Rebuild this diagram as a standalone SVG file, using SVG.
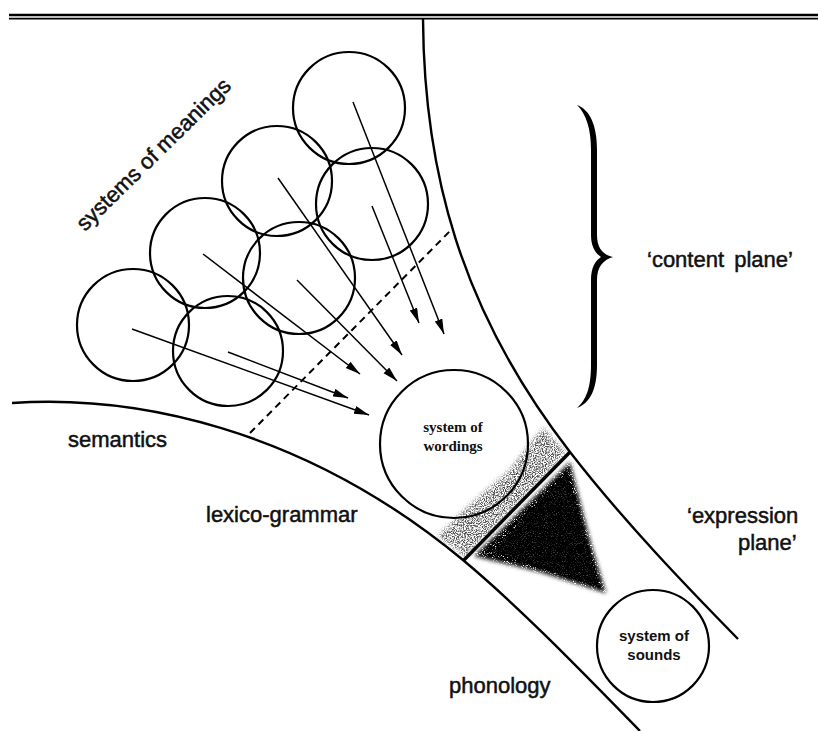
<svg xmlns="http://www.w3.org/2000/svg" width="818" height="731" viewBox="0 0 818 731">
<style>
.c{fill:none;stroke:#000;stroke-width:2.2}
.a{fill:none;stroke:#000;stroke-width:1.5;marker-end:url(#ah)}
.curve{fill:none;stroke:#000;stroke-width:2.4}
.lbl{font-family:"Liberation Sans",Arial,sans-serif;font-size:22px;fill:#111;stroke:#111;stroke-width:0.5}
.sm{font-family:"Liberation Sans",Arial,sans-serif;font-size:15px;font-weight:bold;fill:#111;text-anchor:middle}
.sr{font-family:"Liberation Serif","Times New Roman",serif;font-size:15px;font-weight:bold;fill:#111;text-anchor:middle}
</style>
<defs>
<marker id="ah" markerUnits="userSpaceOnUse" markerWidth="16" markerHeight="9" refX="15" refY="4" orient="auto">
<path d="M0,0 L15,4 L0,8 z" fill="#000"/>
</marker>
<filter id="grain" x="-20%" y="-20%" width="140%" height="140%">
<feGaussianBlur in="SourceGraphic" stdDeviation="2.5" result="b"/>
<feTurbulence type="fractalNoise" baseFrequency="0.9" numOctaves="2" seed="4" result="n"/>
<feColorMatrix in="n" type="matrix" values="0 0 0 0 0  0 0 0 0 0  0 0 0 0 0  4 0 0 0 -1.6" result="na"/>
<feComposite in="b" in2="na" operator="in"/>
</filter>
<filter id="grainD" x="-20%" y="-20%" width="140%" height="140%">
<feGaussianBlur in="SourceGraphic" stdDeviation="2" result="b"/>
<feTurbulence type="fractalNoise" baseFrequency="0.9" numOctaves="2" seed="7" result="n"/>
<feColorMatrix in="n" type="matrix" values="0 0 0 0 0  0 0 0 0 0  0 0 0 0 0  5 0 0 0 -1.2" result="na"/>
<feComposite in="b" in2="na" operator="in"/>
</filter>
</defs>
<rect width="818" height="731" fill="#fff"/>
<g id="rule">
<line x1="9" y1="15" x2="818" y2="15" stroke="#000" stroke-width="2.6"/>
<line x1="9" y1="18.6" x2="818" y2="18.6" stroke="#000" stroke-width="1.8"/>
</g>
<g id="strata">
<path class="curve" d="M423,19 C424,170 460,310 570,452 C625,523 690,590 738,639"/>
<path class="curve" d="M12,403 C130,395 300,425 463,560 C523,610 590,680 640,731"/>
<line x1="250" y1="433" x2="451" y2="230" stroke="#000" stroke-width="2" stroke-dasharray="7,5"/>
<line x1="464" y1="560" x2="570" y2="452" stroke="#000" stroke-width="3.4"/>
</g>
<g id="shading">
<polygon points="543,428 566,453 466,557 438,536 470,505 510,470" fill="#222" opacity="0.8" filter="url(#grain)"/>
<polygon points="570,462 474,556 540,572 606,593 590,540" fill="#000" filter="url(#grainD)"/>
<polygon points="567,472 492,552 560,575 600,588 585,535" fill="#000" opacity="0.75"/>
</g>
<g id="meanings">
<circle id="m1" class="c" cx="349" cy="108" r="56"/>
<circle id="m2" class="c" cx="372" cy="204" r="56"/>
<circle id="m3" class="c" cx="277" cy="181" r="55"/>
<circle id="m4" class="c" cx="299" cy="278" r="56"/>
<circle id="m5" class="c" cx="205" cy="253" r="55"/>
<circle id="m6" class="c" cx="228" cy="351" r="55"/>
<circle id="m7" class="c" cx="133" cy="325" r="56"/>
</g>
<g id="connectors">
<line class="a" x1="353" y1="102" x2="444" y2="334"/>
<line class="a" x1="372" y1="206" x2="419" y2="323"/>
<line class="a" x1="278" y1="178" x2="402" y2="355"/>
<line class="a" x1="297" y1="280" x2="397" y2="381"/>
<line class="a" x1="203" y1="254" x2="360" y2="374"/>
<line class="a" x1="228" y1="352" x2="348" y2="398"/>
<line class="a" x1="132" y1="329" x2="369" y2="415"/>
</g>
<g id="wordings">
<circle class="c" cx="454" cy="444" r="74"/>
<text class="sr" x="453" y="432">system of</text>
<text class="sr" x="453" y="451">wordings</text>
</g>
<g id="sounds">
<circle class="c" cx="653" cy="646" r="56"/>
<text class="sm" x="654" y="641">system of</text>
<text class="sm" x="654" y="660">sounds</text>
</g>
<g id="brace">
<path fill="#000" d="M577,105 C590,110 597,125 597,150 L597,235 C597,248 603,255 613,257 C603,260 597,267 597,280 L597,365 C597,390 590,403 577,408 C586,400 591,388 591,365 L591,280 C591,268 595,261 601,257 C595,253 591,246 591,235 L591,150 C591,128 586,114 577,105 Z"/>
</g>
<g id="labels">
<text class="lbl" transform="translate(85,232) rotate(-44.5)">systems of meanings</text>
<text class="lbl" x="647" y="267" word-spacing="4">‘content plane’</text>
<text class="lbl" x="687" y="523">‘expression</text>
<text class="lbl" x="738" y="550">plane’</text>
<text class="lbl" x="68" y="447">semantics</text>
<text class="lbl" x="206" y="522">lexico-grammar</text>
<text class="lbl" x="449" y="693">phonology</text>
</g>
</svg>
